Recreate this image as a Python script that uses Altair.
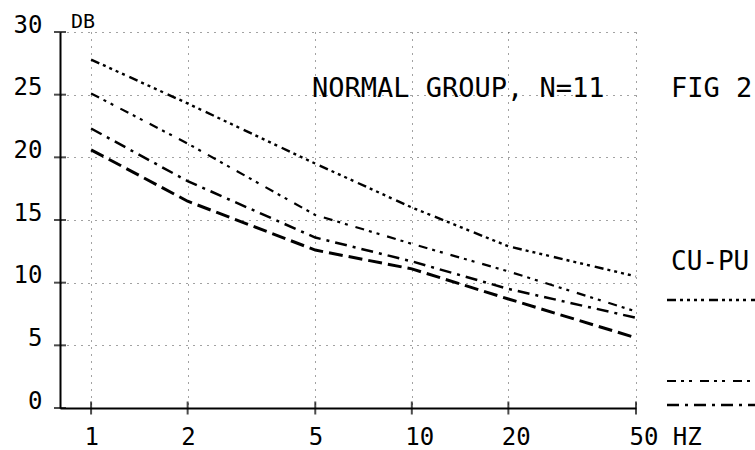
import altair as alt
import pandas as pd

# Frequency (Hz) and level (dB) for the four curves
freqs = [1, 2, 5, 10, 20, 50]
curve_a = [27.8, 24.3, 19.5, 16.0, 12.9, 10.5]
curve_b = [25.1, 21.1, 15.4, 13.1, 10.9, 7.7]
curve_c = [22.3, 18.1, 13.6, 11.7, 9.5, 7.2]
curve_d = [20.6, 16.5, 12.6, 11.1, 8.7, 5.6]

x_ticks = [1, 2, 5, 10, 20, 50]
y_ticks = [0, 5, 10, 15, 20, 25, 30]

FONT = "DejaVu Sans Mono"

# line styles: (dash pattern, width)
styles = {
    "A": ([9, 4, 3, 4, 3, 4, 3, 4, 3, 5], 2.4),
    "B": ([9, 5, 3, 5, 3, 8], 2.2),
    "C": ([12, 6, 3, 6], 2.5),
    "D": ([14, 6], 3.0),
}
series = {"A": curve_a, "B": curve_b, "C": curve_c, "D": curve_d}

x_scale = alt.Scale(type="log", domain=[0.8, 50], nice=False)
y_scale = alt.Scale(domain=[0, 30], nice=False, zero=False)

x_axis = alt.Axis(
    values=x_ticks, title=None, grid=True, ticks=False, tickSize=0,
    labelAlign="left", labelOffset=-7, labelBaseline="top", labelPadding=17,
    labelExpr="datum.value == 50 ? '50 HZ' : datum.label",
    labelOverlap=False, labelBound=False, labelFlush=False,
)
y_axis = alt.Axis(
    values=y_ticks, title=None, grid=True, ticks=False, tickSize=0,
    labelBaseline="alphabetic", labelOffset=0, labelPadding=18,
    labelOverlap=False, labelBound=False, labelFlush=False,
)

X = alt.X("freq:Q", scale=x_scale, axis=x_axis)
Y = alt.Y("db:Q", scale=y_scale, axis=y_axis)

layers = []
for name, vals in series.items():
    dash, width = styles[name]
    df = pd.DataFrame({"freq": freqs, "db": vals})
    layers.append(
        alt.Chart(df).mark_line(color="black", strokeDash=dash, strokeWidth=width).encode(x=X, y=Y)
    )

# tick marks crossing the axis lines
ytick_df = pd.DataFrame({"freq": [0.8] * len(y_ticks), "db": y_ticks})
xtick_df = pd.DataFrame({"freq": x_ticks, "db": [0] * len(x_ticks)})
layers.append(
    alt.Chart(ytick_df).mark_tick(orient="horizontal", size=12, thickness=2, color="black").encode(x=X, y=Y)
)
layers.append(
    alt.Chart(xtick_df).mark_tick(orient="vertical", size=13, thickness=2, color="black").encode(x=X, y=Y)
)

# text annotations
def label(text, x, y, size):
    return alt.Chart(pd.DataFrame({"t": [text]})).mark_text(
        font=FONT, fontSize=size, align="left", baseline="alphabetic", color="black"
    ).encode(text="t:N", x=alt.value(x), y=alt.value(y))

layers.append(label("DB", 11, -4, 20))
layers.append(label("NORMAL GROUP, N=11", 252, 65, 27))
layers.append(label("FIG 2", 611, 65, 27))
layers.append(label("CU-PU", 611, 238, 26))

# legend line samples
def sample(name, y):
    dash, width = styles[name]
    return alt.Chart(pd.DataFrame({"s": [name]})).mark_rule(
        color="black", strokeDash=dash, strokeWidth=width
    ).encode(x=alt.value(607), x2=alt.value(700), y=alt.value(y))

layers.append(sample("A", 268))
layers.append(sample("B", 349))
layers.append(sample("C", 373))

chart = alt.layer(*layers).properties(
    width=576, height=376,
    autosize=alt.AutoSizeParams(type="none"),
    padding={"left": 60, "top": 32, "right": 119, "bottom": 42},
    background="white",
).configure_view(stroke=None).configure_axis(
    domainColor="black", domainWidth=2,
    labelFont=FONT, labelFontSize=24, labelColor="black",
    gridColor="#444444", gridDash=[1, 6], gridWidth=1,
)

chart.save("out.html", embed_options={"renderer": "svg", "actions": False})
